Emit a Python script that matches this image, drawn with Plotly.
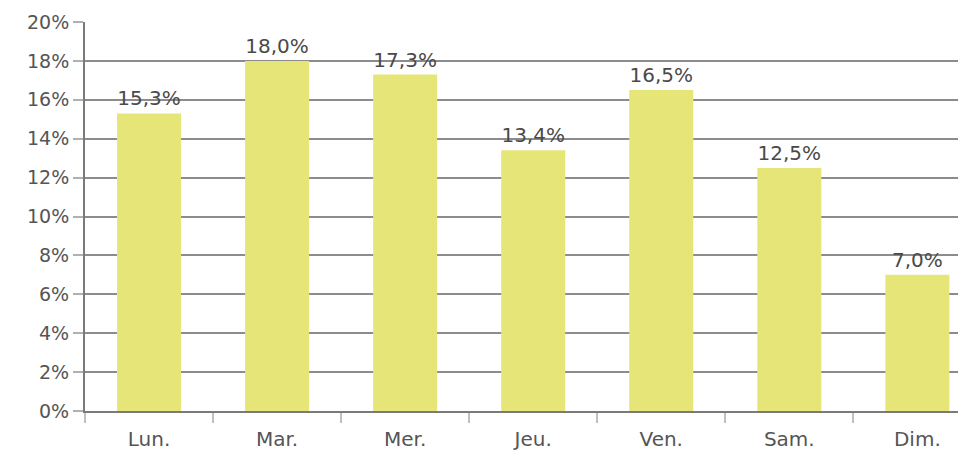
import plotly.graph_objects as go

days = ["Lun.", "Mar.", "Mer.", "Jeu.", "Ven.", "Sam.", "Dim."]
shares = [15.3, 18.0, 17.3, 13.4, 16.5, 12.5, 7.0]
y_ticks = [0, 2, 4, 6, 8, 10, 12, 14, 16, 18, 20]
y_tick_labels = [f"{v}%" for v in y_ticks]
bar_labels = [f"{v:.1f}%".replace(".", ",") for v in shares]

fig = go.Figure(go.Bar(
    x=days, y=shares,
    marker=dict(color="#e6e678", line=dict(width=0)),
    width=0.5,
    text=bar_labels, textposition="outside", textangle=0,
    textfont=dict(family="DejaVu Sans", size=20, color="#4a4a4a"),
    cliponaxis=False,
))

# the page body adds an 8px margin; the figure is sized/margined to compensate
fig.update_layout(
    width=958, height=445,
    margin=dict(l=77, r=0, t=14, b=42, autoexpand=False),
    plot_bgcolor="white", paper_bgcolor="white",
    showlegend=False,
    font=dict(family="DejaVu Sans", size=19, color="#555555"),
)
fig.update_yaxes(
    range=[0, 20], tickvals=y_ticks, ticktext=y_tick_labels,
    showgrid=True, gridcolor="#8c8c8c", gridwidth=2,
    showline=True, linecolor="#7a7a7a", linewidth=2,
    ticks="outside", ticklen=10, tickcolor="#b0b0b0", tickwidth=2,
    tickfont=dict(size=19, color="#555555"),
    zeroline=False, automargin=False,
)
fig.update_xaxes(
    range=[-0.5, 6.38],
    showline=True, linecolor="#7a7a7a", linewidth=2,
    ticks="outside", tickson="boundaries", ticklen=10, tickcolor="#c0c0c0", tickwidth=2,
    tickfont=dict(size=20, color="#555555"), ticklabelstandoff=9,
    showgrid=False, automargin=False,
)

fig.write_html("out.html")
